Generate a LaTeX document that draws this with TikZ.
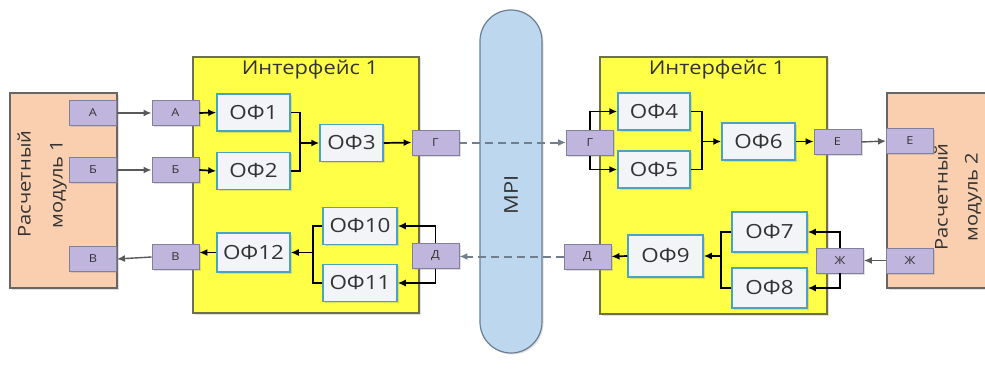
\documentclass[tikz,border=0pt]{standalone}
\usepackage{fontspec}
\setmainfont[FakeStretch=1.15]{Open Sans}
\usetikzlibrary{arrows.meta,shadows}
\definecolor{yel}{HTML}{FFFF48}
\definecolor{yelb}{HTML}{6E6E50}
\definecolor{peach}{HTML}{F9CFAF}
\definecolor{portf}{HTML}{BFB5DD}
\definecolor{portb}{HTML}{80809A}
\definecolor{offill}{HTML}{F2F4F7}
\definecolor{ofb}{HTML}{4BA3C3}
\definecolor{mpif}{HTML}{BDD7EE}
\definecolor{mpib}{HTML}{6A7F95}
\definecolor{txt}{HTML}{333333}
\definecolor{gline}{HTML}{595959}
\definecolor{dline}{HTML}{707E8E}
\tikzset{
  shad/.style={drop shadow={opacity=0.25,shadow xshift=1.5pt,shadow yshift=-1.5pt}},
  modbox/.style={draw=gray!80!black,line width=1.2pt,fill=peach,shad},
  ifbox/.style={draw=yelb,line width=1.4pt,fill=yel,shad},
  port/.style={draw=portb,line width=0.9pt,fill=portf,inner sep=0pt,minimum width=47pt,minimum height=25pt,text=txt,font=\fontsize{11}{13}\selectfont,shad},
  ofbox/.style={draw=ofb,line width=1.5pt,fill=offill,inner sep=0pt,minimum width=73pt,minimum height=37pt,text=txt,font=\fontsize{19.5}{22}\selectfont,shad},
  arr/.style={line width=1.7pt,black,-{Latex[length=8pt,width=7pt]}},
  ln/.style={line width=1.7pt,black},
  garr/.style={line width=1.4pt,gline,-{Latex[length=8pt,width=7pt]}},
  darr/.style={line width=2pt,dline,dash pattern=on 8pt off 5pt,-{Latex[length=8pt,width=7pt]}},
  title/.style={text=txt,font=\fontsize{19}{22}\selectfont},
}
\begin{document}
\begin{tikzpicture}[x=1pt,y=-1pt]
\useasboundingbox (0,0) rectangle (985,369);
\clip (0,0) rectangle (985,369);
% modules
\node[modbox,minimum width=107pt,minimum height=195pt,inner sep=0pt] (mod1) at (63.5,190.5) {};
\node[modbox,minimum width=113pt,minimum height=195pt,inner sep=0pt] (mod2) at (943.5,190.5) {};
\node[rotate=90,align=center,text=txt,font=\fontsize{17.5}{32}\selectfont] (m1t) at (42,184) {Расчетный\\модуль 1};
\node[rotate=90,align=center,text=txt,font=\fontsize{17.5}{30}\selectfont] (m2t) at (958,197) {Расчетный\\модуль 2};
% interface boxes
\node[ifbox,minimum width=226pt,minimum height=256pt,inner sep=0pt] (if1) at (306,185) {};
\node[ifbox,minimum width=227pt,minimum height=257pt,inner sep=0pt] (if2) at (713.5,185.5) {};
\node[title] (t1) at (310,70) {Интерфейс 1};
\node[title] (t2) at (717,70) {Интерфейс 1};
% MPI
\node[draw=mpib,line width=1.2pt,fill=mpif,rounded corners=31pt,minimum width=62pt,minimum height=343pt,inner sep=0pt,shad] (mpi) at (511,181.5) {};
\node[rotate=90,text=txt,font=\fontsize{19}{22}\selectfont] (mpit) at (511,195) {MPI};
% ports
\node[port] (a1) at (93,113) {А};
\node[port] (b1) at (93,170) {Б};
\node[port] (v1) at (93,259) {В};
\node[port] (a2) at (175.5,113) {А};
\node[port] (b2) at (175.5,170) {Б};
\node[port] (v2) at (175.5,257) {В};
\node[port] (g1) at (435.5,142.5) {Г};
\node[port] (d1) at (435.5,256) {Д};
\node[port] (g2) at (590,143) {Г};
\node[port] (d2) at (587.5,256.5) {Д};
\node[port] (e1) at (837.5,142) {Е};
\node[port] (e2) at (910,141) {Е};
\node[port] (zh1) at (840,260.5) {Ж};
\node[port] (zh2) at (910,260.5) {Ж};
% OF boxes
\node[ofbox] (of1) at (253.5,112.5) {ОФ1};
\node[ofbox] (of2) at (253.5,171) {ОФ2};
\node[ofbox,minimum width=63pt] (of3) at (351.5,143) {ОФ3};
\node[ofbox,minimum width=74pt] (of10) at (360,226) {ОФ10};
\node[ofbox,minimum width=74pt] (of11) at (360,283) {ОФ11};
\node[ofbox,minimum height=39pt] (of12) at (253.5,252.5) {ОФ12};
\node[ofbox,minimum width=72pt] (of4) at (654,111.5) {ОФ4};
\node[ofbox,minimum width=72pt] (of5) at (654,169.5) {ОФ5};
\node[ofbox] (of6) at (758.5,141.5) {ОФ6};
\node[ofbox,minimum width=75pt,minimum height=40pt] (of7) at (769.5,232) {ОФ7};
\node[ofbox,minimum width=75pt,minimum height=40pt] (of8) at (769.5,288) {ОФ8};
\node[ofbox,minimum width=75pt,minimum height=42pt] (of9) at (665.5,256) {ОФ9};
% junctions
\coordinate (j1) at (300,143);
\coordinate (j2) at (313,252.5);
\coordinate (j3) at (702,141.5);
\coordinate (j4) at (721,256);
% gray connectors between modules and interfaces
\draw[garr] (a1.east) -- (a2.west);
\draw[garr] (b1.east) -- (b2.west);
\draw[garr] (v2.west) -- (v1.east);
\draw[garr] (e1.east) -- (e2.west);
\draw[garr] (zh2.west) -- (zh1.east);
% left interface
\draw[arr] (a2.east) -- (of1.west);
\draw[arr] (b2.east) -- (of2.west);
\draw[ln] (of1.east) -| (j1);
\draw[ln] (of2.east) -| (j1);
\draw[arr] (j1) -- (of3.west);
\draw[arr] (of3.east) -- (g1.west);
\draw[arr] (d1.north) |- (of10.east);
\draw[arr] (d1.south) |- (of11.east);
\draw[ln] (of10.west) -| (j2);
\draw[ln] (of11.west) -| (j2);
\draw[arr] (j2) -- (of12.east);
\draw[arr] (of12.west) -- (v2.east |- of12.west);
% MPI dashed
\draw[darr] (g1.east) -- (g2.west |- g1.east);
\draw[darr] (d2.west) -- (d1.east |- d2.west);
% right interface
\draw[arr] (g2.north) |- (of4.west);
\draw[arr] (g2.south) |- (of5.west);
\draw[ln] (of4.east) -| (j3);
\draw[ln] (of5.east) -| (j3);
\draw[arr] (j3) -- (of6.west);
\draw[arr] (of6.east) -- (e1.west |- of6.east);
\draw[arr] (zh1.north) |- (of7.east);
\draw[arr] (zh1.south) |- (of8.east);
\draw[ln] (of7.west) -| (j4);
\draw[ln] (of8.west) -| (j4);
\draw[arr] (j4) -- (of9.east);
\draw[arr] (of9.west) -- (d2.east);
\end{tikzpicture}
\end{document}
